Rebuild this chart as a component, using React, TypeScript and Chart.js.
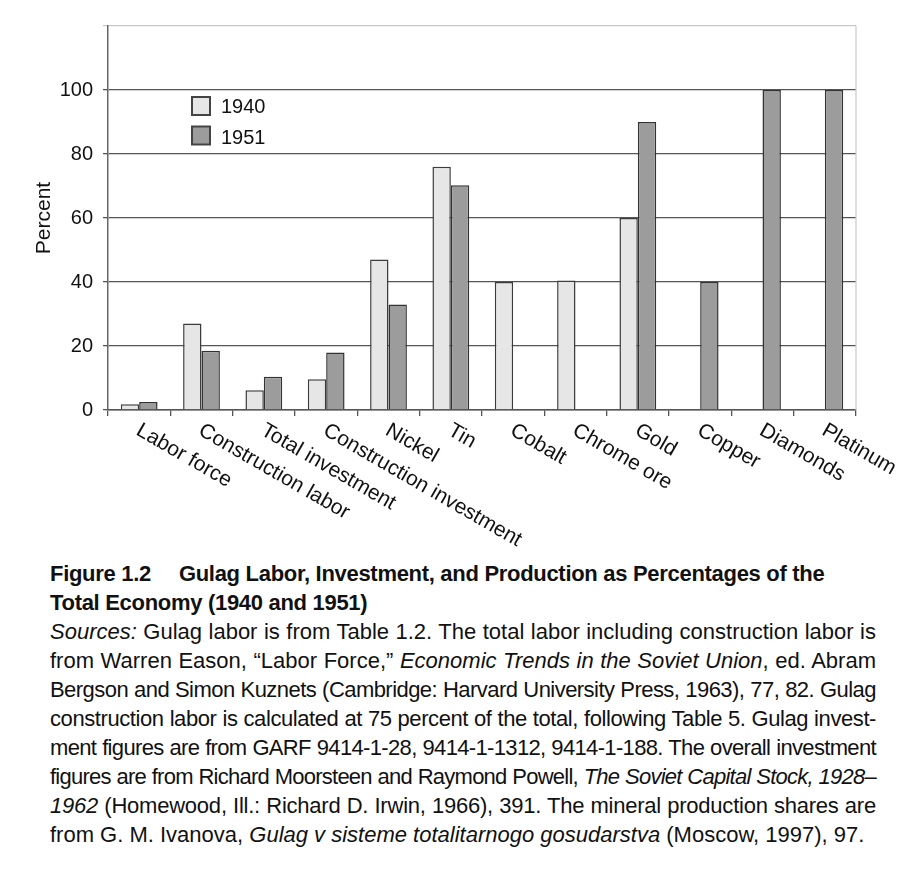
import React, { useEffect, useLayoutEffect, useRef } from "react";
import { Chart, registerables } from "chart.js";

Chart.register(...registerables);

const categories = [
  "Labor force",
  "Construction labor",
  "Total investment",
  "Construction investment",
  "Nickel",
  "Tin",
  "Cobalt",
  "Chrome ore",
  "Gold",
  "Copper",
  "Diamonds",
  "Platinum",
];
const values1940: (number | null)[] = [1.8, 27, 6.2, 9.6, 47, 76, 40, 40.5, 60, null, null, null];
const values1951: (number | null)[] = [2.5, 18.5, 10.4, 18, 33, 70.2, null, null, 90, 40, 100, 100];
const seriesLabels = ["1940", "1951"];
const yTicks = [0, 20, 40, 60, 80, 100, 120];

const FONT = "'Liberation Sans', Arial, Helvetica, sans-serif";
const CAPTION_FONT = "'Liberation Sans', Arial, Helvetica, sans-serif";
const TEXT_WIDTH = 826;

const decorPlugin = {
  id: "decor",
  afterDraw(chart: any) {
    const { ctx, chartArea } = chart;
    const xScale = chart.scales.x;
    ctx.save();
    // right border
    ctx.strokeStyle = "#c8c8c8";
    ctx.lineWidth = 1.2;
    ctx.beginPath();
    ctx.moveTo(chartArea.right, chartArea.top);
    ctx.lineTo(chartArea.right, chartArea.bottom);
    ctx.stroke();

    // rotated category labels (down-right)
    ctx.fillStyle = "#111";
    ctx.font = `21px ${FONT}`;
    ctx.textAlign = "left";
    ctx.textBaseline = "top";
    chart.data.labels.forEach((lab: string, i: number) => {
      const x = xScale.getPixelForValue(i) + 4;
      const y = chartArea.bottom + 10;
      ctx.save();
      ctx.translate(x, y);
      ctx.rotate((30 * Math.PI) / 180);
      ctx.fillText(lab, 0, 0);
      ctx.restore();
    });

    // legend
    const lx = chartArea.left + 84;
    const ly = chartArea.top + 71;
    chart.data.datasets.forEach((ds: any, i: number) => {
      const by = ly + i * 29.5;
      ctx.fillStyle = ds.backgroundColor;
      ctx.fillRect(lx, by, 18, 18);
      ctx.strokeStyle = "#444";
      ctx.lineWidth = 2;
      ctx.strokeRect(lx, by, 18, 18);
      ctx.fillStyle = "#111";
      ctx.font = `20px ${FONT}`;
      ctx.textBaseline = "middle";
      ctx.fillText(ds.label, lx + 29, by + 10 + i * 2);
    });
    ctx.restore();
  },
};

function ChartView() {
  const ref = useRef<HTMLCanvasElement | null>(null);
  useEffect(() => {
    if (!ref.current) return;
    const chart = new Chart(ref.current, {
      type: "bar",
      data: {
        labels: categories,
        datasets: [
          {
            label: seriesLabels[0],
            data: values1940,
            backgroundColor: "#e6e6e6",
            borderColor: "#3c3c3c",
            borderWidth: 1.5,
          },
          {
            label: seriesLabels[1],
            data: values1951,
            backgroundColor: "#9c9c9c",
            borderColor: "#333333",
            borderWidth: 1.5,
          },
        ],
      },
      options: {
        responsive: true,
        maintainAspectRatio: false,
        animation: false,
        layout: { padding: { top: 18, right: 60, left: 0, bottom: 142 } },
        plugins: {
          legend: { display: false },
          tooltip: { enabled: false },
        },
        datasets: {
          bar: { categoryPercentage: 0.59, barPercentage: 1.0 },
        },
        scales: {
          x: {
            ticks: { display: false },
            grid: {
              drawOnChartArea: false,
              drawTicks: true,
              tickLength: 6,
              offset: true,
              color: "#555",
              lineWidth: 1.3,
            },
            border: { color: "#555", width: 1.5 },
            afterFit: (s: any) => {
              s.height = 6;
            },
          },
          y: {
            min: 0,
            max: 120,
            afterBuildTicks: (s: any) => {
              s.ticks = yTicks.map((v) => ({ value: v }));
            },
            ticks: {
              color: "#111",
              font: { family: FONT, size: 20 },
              padding: 10,
              callback: (v: any) => (Number(v) === 120 ? "" : String(v)),
            },
            grid: {
              color: (c: any) => (c.tick && c.tick.value === 120 ? "#c8c8c8" : "#555"),
              lineWidth: 1.3,
              tickLength: 5,
            },
            border: { color: "#666", width: 1.5 },
            title: {
              display: true,
              text: "Percent",
              color: "#111",
              font: { family: FONT, size: 21 },
              padding: { top: 24, bottom: 0 },
            },
            afterFit: (s: any) => {
              s.width = 100;
              s.paddingTop = 0;
              s.paddingBottom = 0;
            },
          },
        },
      },
      plugins: [decorPlugin],
    });
    return () => chart.destroy();
  }, []);
  return (
    <div style={{ position: "relative", width: 908, height: 550 }}>
      <canvas ref={ref} />
    </div>
  );
}

const sourceLines: React.ReactNode[] = [
  <>
    <i>Sources:</i> Gulag labor is from Table 1.2. The total labor including construction labor is
  </>,
  <>
    from Warren Eason, “Labor Force,” <i>Economic Trends in the Soviet Union</i>, ed. Abram
  </>,
  <>Bergson and Simon Kuznets (Cambridge: Harvard University Press, 1963), 77, 82. Gulag</>,
  <>construction labor is calculated at 75 percent of the total, following Table 5. Gulag invest-</>,
  <>ment figures are from GARF 9414-1-28, 9414-1-1312, 9414-1-188. The overall investment</>,
  <>
    figures are from Richard Moorsteen and Raymond Powell, <i>The Soviet Capital Stock, 1928–</i>
  </>,
  <>
    <i>1962</i> (Homewood, Ill.: Richard D. Irwin, 1966), 391. The mineral production shares are
  </>,
  <>
    from G. M. Ivanova, <i>Gulag v sisteme totalitarnogo gosudarstva</i> (Moscow, 1997), 97.
  </>,
];

function SourceLine({ children, last }: { children: React.ReactNode; last: boolean }) {
  const divRef = useRef<HTMLDivElement | null>(null);
  const spanRef = useRef<HTMLSpanElement | null>(null);
  useLayoutEffect(() => {
    const d = divRef.current;
    const s = spanRef.current;
    if (!d || !s) return;
    const w = s.getBoundingClientRect().width;
    const n = (s.textContent || "").length;
    if (w > TEXT_WIDTH - 2 && n > 0) {
      d.style.letterSpacing = `${(TEXT_WIDTH - 4 - w) / n}px`;
    }
    if (!last) {
      d.style.textAlign = "justify";
      d.style.textAlignLast = "justify";
    }
  }, [last]);
  return (
    <div ref={divRef} style={{ whiteSpace: "nowrap", textAlign: "left", width: TEXT_WIDTH }}>
      <span ref={spanRef}>{children}</span>
    </div>
  );
}

export default function App() {
  return (
    <div>
      <ChartView />
      <div
        style={{
          marginLeft: 42,
          marginTop: 2,
          width: TEXT_WIDTH,
          fontFamily: CAPTION_FONT,
          color: "#111",
        }}
      >
        <div style={{ fontWeight: "bold", fontSize: 22, lineHeight: "28.5px", letterSpacing: "-0.3px" }}>
          <div style={{ whiteSpace: "nowrap" }}>
            <span style={{ marginRight: 28 }}>Figure 1.2</span>Gulag Labor, Investment, and Production as
            Percentages of the
          </div>
          <div>Total Economy (1940 and 1951)</div>
        </div>
        <div style={{ fontSize: 22, lineHeight: "29px" }}>
          {sourceLines.map((ln, i) => (
            <SourceLine key={i} last={i === sourceLines.length - 1}>
              {ln}
            </SourceLine>
          ))}
        </div>
      </div>
    </div>
  );
}
